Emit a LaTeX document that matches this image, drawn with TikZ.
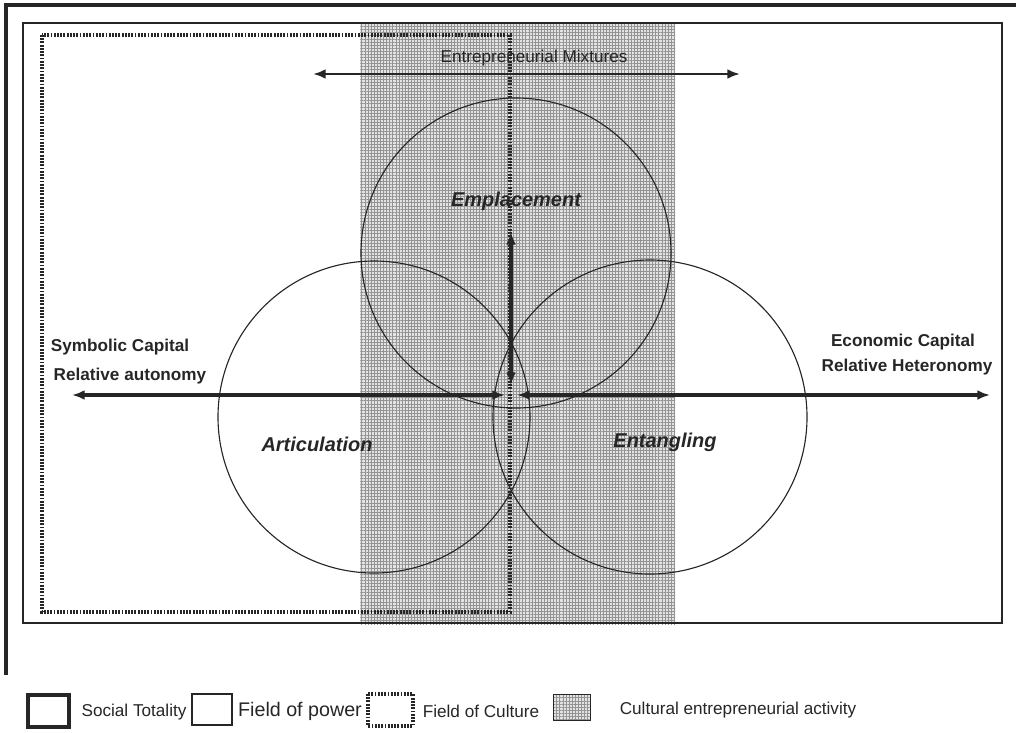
\documentclass[tikz,border=0pt]{standalone}
\usepackage{fontspec}
\setmainfont{Liberation Sans}
\usetikzlibrary{arrows.meta,patterns.meta}

\begin{document}
\begin{tikzpicture}[x=0.025cm,y=-0.025cm,color=black!85,
    lbl/.style={font=\bfseries\fontsize{12.2}{14}\selectfont,inner sep=0pt},
    area/.style={font=\bfseries\itshape\fontsize{14.2}{16}\selectfont,inner sep=0pt},
    keytext/.style={font=\fontsize{12.2}{14}\selectfont,inner sep=0pt},
    axis/.style={line width=2.4pt,{Latex[length=9pt,width=7pt]}-{Latex[length=9pt,width=7pt]}},
    mixaxis/.style={line width=2pt,{Latex[length=9pt,width=7pt]}-{Latex[length=9pt,width=7pt]}},
    ring/.style={line width=0.8pt},
    totality/.style={line width=2.4pt},
    power/.style={line width=1.4pt},
    culture/.style={line width=2.2pt,dash pattern=on 1.3pt off 1pt},
    mix/.style={fill=gray!22,
        postaction={pattern={Lines[distance=2.2pt,line width=0.7pt]},pattern color=gray!85},
        postaction={pattern={Lines[angle=90,distance=2.2pt,line width=0.7pt]},pattern color=gray!85}}]
    \useasboundingbox (0,0) rectangle (1016,732);
    \clip (0,0) rectangle (1016,732);

    \fill[mix] (360,23) rectangle (675,624);

    \draw[totality] (6,675) -- (6,5) -- (1020,5);
    \draw[power] (23,23) rectangle (1002,623);
    \draw[culture] (42,35) rectangle (510,612);

    \coordinate (emp) at (516,253);
    \coordinate (art) at (374,417);
    \coordinate (ent) at (650,417);
    \draw[ring] (emp) circle[radius=155];
    \draw[ring] (art) circle[radius=156];
    \draw[ring] (ent) circle[radius=157];

    \coordinate (mixl) at (313,74);
    \coordinate (mixr) at (740,74);
    \coordinate (symbl) at (72,395);
    \coordinate (symbr) at (505,395);
    \coordinate (econl) at (517,395);
    \coordinate (econr) at (990,395);
    \coordinate (vtop) at (511,232);
    \coordinate (vbot) at (511,385);
    \draw[mixaxis] (mixl) -- (mixr);
    \draw[axis] (symbl) -- (symbr);
    \draw[axis] (econl) -- (econr);
    \draw[axis] (vtop) -- (vbot);

    \node[keytext] (mixt) at (534,58) {Entrepreneurial Mixtures};
    \node[area] (empl) at (516,201) {Emplacement};
    \node[area] (artic) at (317,444) {Articulation};
    \node[area] (entang) at (665,442) {Entangling};
    \node[lbl] (symb) at (120,347) {Symbolic Capital};
    \node[lbl] (auton) at (130,376) {Relative autonomy};
    \node[lbl] (econ) at (903,342) {Economic Capital};
    \node[lbl] (heter) at (907,367) {Relative Heteronomy};

    \draw[totality] (28,695) rectangle (69,727);
    \draw[power] (192,694) rectangle (232,725);
    \draw[culture] (368,694) rectangle (413,726);
    \fill[mix] (553,694) rectangle (590,720);
    \draw[line width=0.5pt] (553,694) rectangle (590,720);
    \node[keytext] (ktot) at (134,712) {Social Totality};
    \node[keytext,font=\fontsize{14}{16}\selectfont] (kpow) at (300,711) {Field of power};
    \node[keytext] (kcul) at (481,711) {Field of Culture};
    \node[keytext] (kmix) at (738,710) {Cultural entrepreneurial activity};
\end{tikzpicture}
\end{document}
